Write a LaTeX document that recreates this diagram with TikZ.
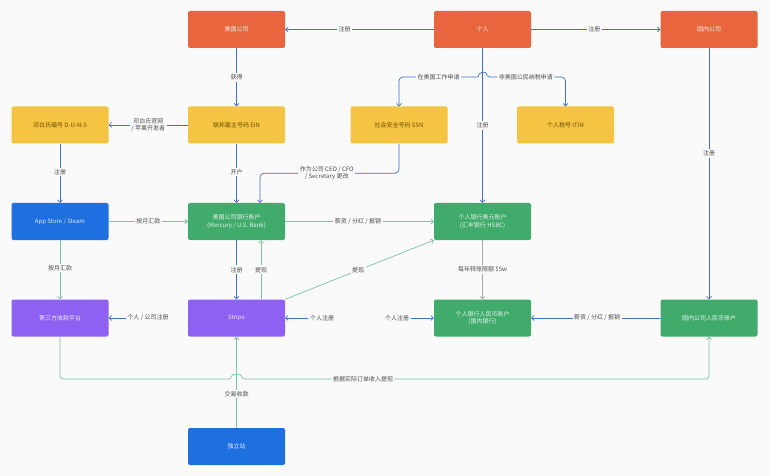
\documentclass[tikz,border=0pt]{standalone}
\usepackage{fontspec}
\setmainfont{Noto Sans CJK SC}
\usetikzlibrary{arrows.meta}
\definecolor{cOr}{HTML}{E9653D}
\definecolor{cYe}{HTML}{F5C443}
\definecolor{cBl}{HTML}{1E6FE0}
\definecolor{cGr}{HTML}{41AB6C}
\definecolor{cPu}{HTML}{8E61F2}
\definecolor{lBl}{HTML}{3F70C8}
\definecolor{lGr}{HTML}{7CC2A5}
\definecolor{lGy}{HTML}{A8A8A8}
\definecolor{tYe}{HTML}{6B4E00}
\definecolor{bgc}{HTML}{FAFAFA}
\begin{document}
\begin{tikzpicture}[x=1pt,y=-1pt,
  box/.style={rectangle,rounded corners=2pt,minimum width=97pt,minimum height=37pt,
    inner sep=1pt,align=center,font=\fontsize{6}{7.5}\selectfont},
  orbox/.style={box,fill=cOr,text=white!90!cOr},
  yebox/.style={box,fill=cYe,text=tYe},
  blbox/.style={box,fill=cBl,text=white!85!cBl},
  grbox/.style={box,fill=cGr,text=white!85!cGr},
  pubox/.style={box,fill=cPu,text=white!85!cPu},
  lbl/.style={fill=bgc,inner sep=1.5pt,align=center,text=black!70,
    font=\fontsize{6}{7}\selectfont},
  con/.style={line width=0.7pt,-{Straight Barb[length=2.5pt,width=5pt]}},
  bl/.style={con,draw=lBl},
  gn/.style={con,draw=lGr},
  gy/.style={con,draw=lGy}]
\useasboundingbox[fill=bgc] (0,0) rectangle (769,476);

% row 1
\node[orbox] (us) at (236.5,29.5) {美国公司};
\node[orbox] (person) at (482.5,29.5) {个人};
\node[orbox] (cn) at (709,29.5) {国内公司};
% row 2
\node[yebox] (duns) at (60,125) {邓白氏编号 D-U-N-S};
\node[yebox] (ein) at (236.5,125) {联邦雇主号码 EIN};
\node[yebox] (ssn) at (399,125) {社会安全号码 SSN};
\node[yebox] (itin) at (565.5,125) {个人税号 ITIN};
% row 3
\node[blbox] (app) at (60,221.5) {App Store / Steam};
\node[grbox] (bank) at (236.5,221.5) {美国公司银行账户\\(Mercury / U.S. Bank)};
\node[grbox] (hsbc) at (482.5,221.5) {个人银行美元账户\\(汇丰银行 HSBC)};
% row 4
\node[pubox] (third) at (60,318) {第三方收款平台};
\node[pubox] (stripe) at (236.5,318) {Stripe};
\node[grbox] (rmb) at (482.5,318) {个人银行人民币账户\\(国内银行)};
\node[grbox] (cnacc) at (709,318) {国内公司人民币账户};
% row 5
\node[blbox] (indie) at (236.5,446.5) {独立站};

% row 1 connectors
\draw[bl] (person.west) -- node[lbl,pos=0.6]{注册} (us.east);
\draw[bl] (person.east) -- node[lbl,pos=0.49]{注册} (cn.west);
\draw[bl] (us.south) -- node[lbl]{获得} (ein.north);
\draw[bl] (person.south) -- node[lbl]{注册} (hsbc.north);
\draw[bl] (cn.south) -- node[lbl,pos=0.42]{注册} (cnacc.north);

\coordinate (hl) at (478,77);
\coordinate (hr) at (486,77);
\draw[bl,rounded corners=4pt] (hl) -- node[lbl]{在美国工作申请} (hl -| ssn.north) -- (ssn.north);
\draw[bl,rounded corners=4pt] (hl) .. controls (478,71.5) and (486,71.5) .. (hr)
  -- node[lbl]{非美国公民纳税申请} (hr -| itin.north) -- (itin.north);

% row 2 connectors
\draw[bl] (ein.west) -- node[lbl]{邓白氏官网\\/ 苹果开发者} (duns.east);
\draw[bl] (duns.south) -- node[lbl,pos=0.48]{注册} (app.north);
\draw[bl] (ein.south) -- node[lbl,pos=0.48]{开户} (bank.north);
\coordinate (sb) at ([xshift=23.5pt]bank.north);
\draw[bl,rounded corners=4pt] (ssn.south) -- ++(0,29.5) coordinate (s1)
  -- node[lbl,pos=0.52]{作为公司 CEO / CFO\\/ Secretary 更改} (s1 -| sb) -- (sb);

% row 3 connectors
\draw[gn] (app.east) -- node[lbl]{按月汇款} (bank.west);
\draw[gn] (bank.east) -- node[lbl,pos=0.49]{薪资 / 分红 / 报销} (hsbc.west);
\draw[gn] (app.south) -- node[lbl,pos=0.47]{按月汇款} (third.north);
\draw[bl] (bank.south) -- node[lbl,pos=0.5]{注册} (stripe.north);
\draw[gn] ([xshift=24.5pt]stripe.north) -- node[lbl]{提现} ([xshift=24.5pt]bank.south);
\draw[gn] (stripe.north east) -- node[lbl,pos=0.49]{提现} (hsbc.south west);
\draw[gy] (hsbc.south) -- node[lbl,pos=0.5]{每年转账限额 \$5w} (rmb.north);

% row 4 connectors
\node[lbl] (f1) at (148,318) {个人 / 公司注册};
\draw[bl] (f1.west) -- (third.east);
\node[lbl] (f2) at (322,318) {个人注册};
\draw[bl] (f2.west) -- (stripe.east);
\node[lbl] (f3) at (397,318) {个人注册};
\draw[bl] (f3.east) -- (rmb.west);
\draw[bl] (cnacc.west) -- node[lbl,pos=0.49]{薪资 / 分红 / 报销} (rmb.east);

% bottom
\draw[gn,rounded corners=3pt] (third.south) -- (60,379) -- (231.5,379)
  .. controls (231.5,373.5) and (241.5,373.5) .. (241.5,379)
  -- node[lbl,pos=0.26]{根据实际订单收入提现} (709,379) -- (cnacc.south);
\draw[gn] (indie.north) -- node[lbl,pos=0.37]{交易收款} (stripe.south);
\end{tikzpicture}
\end{document}
